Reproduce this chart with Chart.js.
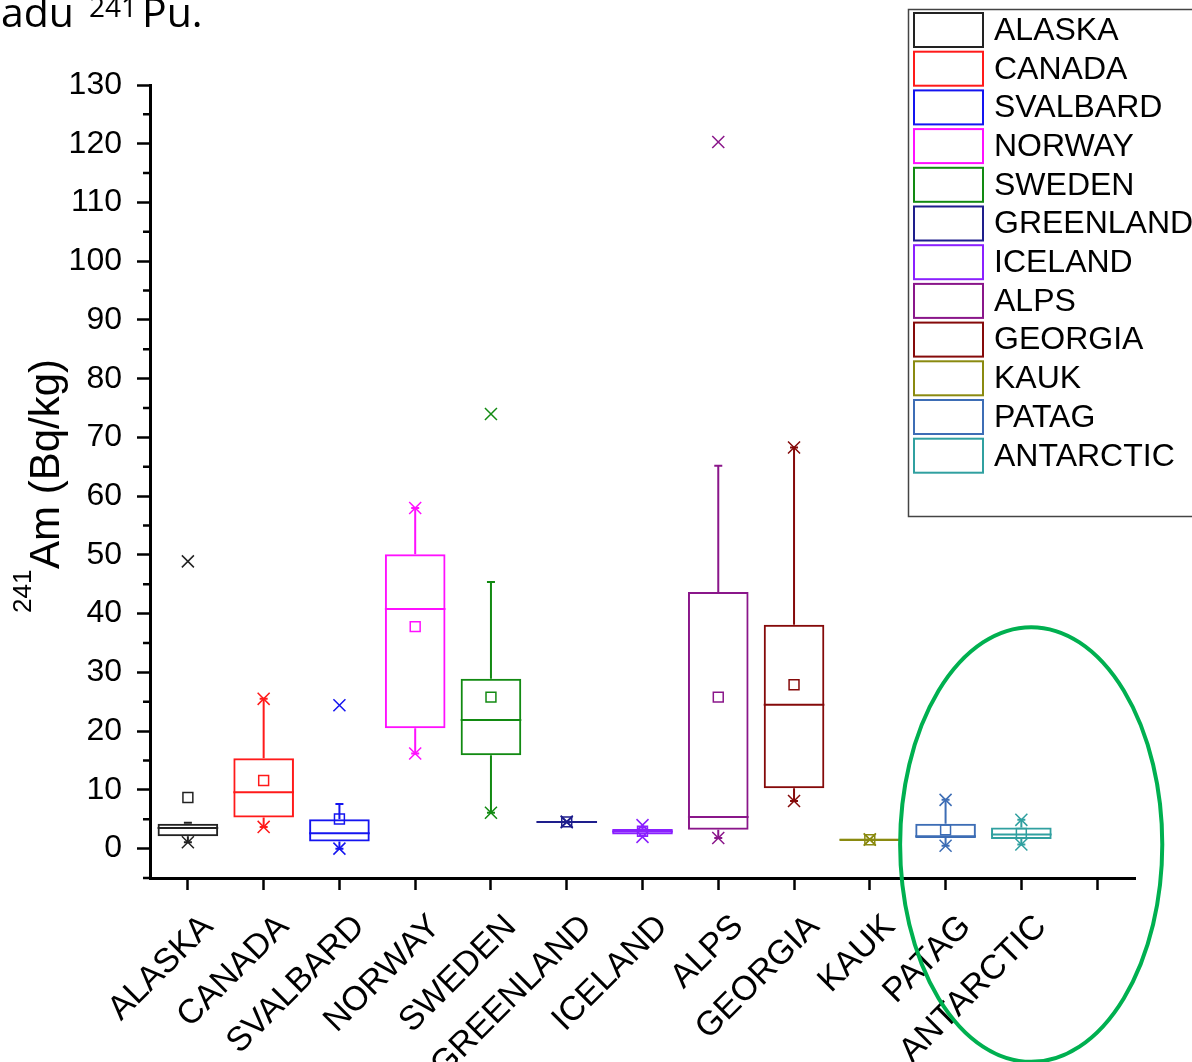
<!DOCTYPE html>
<html>
<head>
<meta charset="utf-8">
<script src="https://cdn.jsdelivr.net/npm/chart.js@4.4.1/dist/chart.umd.min.js"></script>
<style>
  html, body { margin: 0; padding: 0; background: #fff; }
  canvas { display: block; }
</style>
</head>
<body>
<canvas id="boxChart" width="1192" height="1062"></canvas>
<script>
// categories, one box each
const categories = ['ALASKA', 'CANADA', 'SVALBARD', 'NORWAY', 'SWEDEN', 'GREENLAND',
  'ICELAND', 'ALPS', 'GEORGIA', 'KAUK', 'PATAG', 'ANTARCTIC'];
// the axis has one empty slot at the end
const xTickLabels = categories.concat(['']);

// box statistics, 241Am (Bq/kg)
const q1Values      = [2.1, 5.3, 1.2, 20.5, 15.9, 4.55, 2.4, 3.2, 10.3, 1.3, 1.8, 1.65];
const medianValues  = [3.5, 9.6, 2.6, 40.8, 21.9, 4.55, 2.9, 5.4, 24.5, 1.5, 2.1, 2.4];
const q3Values      = [4.25, 15.4, 5.0, 50.1, 28.9, 4.55, 3.35, 43.7, 38.1, 1.7, 4.25, 3.6];
const whiskerLow    = [1.1, 3.7, 0.0, 16.2, 6.1, 4.55, 2.2, 1.8, 8.1, 1.5, 0.5, 0.7];
const whiskerHigh   = [4.4, 25.5, 7.6, 58.0, 45.4, 4.55, 3.6, 65.2, 68.3, 1.5, 8.3, 4.9];
const meanValues    = [8.7, 11.6, 5.05, 37.8, 25.8, 4.55, 2.95, 25.8, 27.9, 1.5, 3.2, 2.6];
const minValues     = [1.1, 3.7, 0.0, 16.2, 6.1, 4.5, 2.0, 1.8, 8.1, 1.5, 0.5, 0.7];
const maxValues     = [48.9, 25.5, 24.4, 58.0, 74.0, 4.6, 4.0, 120.3, 68.3, 1.6, 8.3, 4.9];

const boxColors = ['#222222', '#ff1a1a', '#1414f0', '#ff10ff', '#128a12', '#1e1e8c',
  '#8a20ff', '#8a168a', '#850a0a', '#8a8a10', '#3d6db5', '#30a0a0'];

const FONT = "'Liberation Sans', Arial, sans-serif";

const boxExtras = {
  id: 'boxExtras',
  beforeDatasetsDraw(chart) {
    const { ctx, scales: { x, y } } = chart;
    ctx.save();
    ctx.lineWidth = 2;
    categories.forEach((c, i) => {
      const xc = x.getPixelForValue(i);
      ctx.strokeStyle = boxColors[i];
      ctx.beginPath();
      ctx.moveTo(xc, y.getPixelForValue(q3Values[i]));
      ctx.lineTo(xc, y.getPixelForValue(whiskerHigh[i]));
      ctx.moveTo(xc, y.getPixelForValue(q1Values[i]));
      ctx.lineTo(xc, y.getPixelForValue(whiskerLow[i]));
      // caps
      [whiskerHigh[i], whiskerLow[i]].forEach(v => {
        const yy = y.getPixelForValue(v);
        ctx.moveTo(xc - 4, yy);
        ctx.lineTo(xc + 4, yy);
      });
      ctx.stroke();
    });
    ctx.restore();
  },
  afterDatasetsDraw(chart) {
    const { ctx, scales: { x, y } } = chart;
    const bars = chart.getDatasetMeta(0).data;
    ctx.save();
    ctx.lineWidth = 2;
    categories.forEach((c, i) => {
      const xc = x.getPixelForValue(i);
      const hw = bars[i].width / 2;
      const ym = y.getPixelForValue(medianValues[i]);
      ctx.strokeStyle = boxColors[i];
      ctx.beginPath();
      ctx.moveTo(xc - hw, ym);
      ctx.lineTo(xc + hw, ym);
      ctx.stroke();
    });
    ctx.restore();
  },
  afterDraw(chart) {
    const { ctx, chartArea, scales: { x, y } } = chart;
    ctx.save();

    // minor ticks on the y axis
    ctx.strokeStyle = '#000';
    ctx.lineWidth = 2.5;
    ctx.beginPath();
    for (let v = -5; v <= 125; v += 10) {
      const yy = y.getPixelForValue(v);
      ctx.moveTo(chartArea.left - 7, yy);
      ctx.lineTo(chartArea.left, yy);
    }
    ctx.stroke();

    // y axis title with superscript
    ctx.save();
    ctx.translate(59, 613);
    ctx.rotate(-Math.PI / 2);
    ctx.fillStyle = '#000';
    ctx.textBaseline = 'alphabetic';
    ctx.font = '26px ' + FONT;
    ctx.fillText('241', 0, -28);
    ctx.font = '42px ' + FONT;
    ctx.fillText('Am (Bq/kg)', 44, 0);
    ctx.restore();

    // text cut from the page above the figure
    ctx.fillStyle = '#000';
    ctx.font = "41px 'Open Sans', sans-serif";
    ctx.fillText('adu', 1, 27);
    ctx.font = "28px 'Open Sans', sans-serif";
    ctx.fillText('241', 89, 17);
    ctx.font = "41px 'Open Sans', sans-serif";
    ctx.fillText('Pu.', 142, 27);

    // legend
    ctx.fillStyle = '#fff';
    ctx.fillRect(908, 9, 300, 508);
    ctx.strokeStyle = '#444';
    ctx.lineWidth = 1.5;
    ctx.strokeRect(908.5, 9.5, 300, 507);
    ctx.font = '32px ' + FONT;
    ctx.textBaseline = 'middle';
    categories.forEach((c, i) => {
      const y0 = 13 + i * 38.7;
      ctx.strokeStyle = boxColors[i];
      ctx.lineWidth = 2;
      ctx.strokeRect(914, y0, 69, 34);
      ctx.fillStyle = '#000';
      ctx.fillText(c, 994, y0 + 18);
    });

    // green highlight ellipse around the last two boxes
    const step = x.getPixelForValue(1) - x.getPixelForValue(0);
    const cx = x.getPixelForValue(11.13);
    const cy = y.getPixelForValue(0.7);
    const ry = cy - y.getPixelForValue(37.7);
    ctx.strokeStyle = '#00b050';
    ctx.lineWidth = 4;
    ctx.beginPath();
    ctx.ellipse(cx, cy, 1.73 * step, ry, 0, 0, Math.PI * 2);
    ctx.stroke();

    ctx.restore();
  }
};

const ctx = document.getElementById('boxChart').getContext('2d');

new Chart(ctx, {
  type: 'bar',
  data: {
    labels: xTickLabels,
    datasets: [
      {
        type: 'bar',
        label: 'box',
        data: categories.map((c, i) => [q1Values[i], q3Values[i]]),
        backgroundColor: 'rgba(0,0,0,0)',
        borderColor: boxColors,
        borderWidth: 2,
        borderSkipped: false,
        barPercentage: 0.8,
        categoryPercentage: 1,
        order: 3
      },
      {
        type: 'line',
        label: 'mean',
        data: meanValues,
        showLine: false,
        pointStyle: 'rect',
        pointRadius: 7,
        pointBorderWidth: 1.5,
        pointBorderColor: boxColors,
        pointBackgroundColor: 'rgba(0,0,0,0)',
        order: 2
      },
      {
        type: 'line',
        label: 'min',
        data: minValues,
        showLine: false,
        pointStyle: 'crossRot',
        pointRadius: 8.5,
        pointBorderWidth: 1.5,
        pointBorderColor: boxColors,
        order: 1
      },
      {
        type: 'line',
        label: 'max',
        data: maxValues,
        showLine: false,
        pointStyle: 'crossRot',
        pointRadius: 8.5,
        pointBorderWidth: 1.5,
        pointBorderColor: boxColors,
        order: 1
      }
    ]
  },
  options: {
    responsive: false,
    animation: false,
    events: [],
    layout: { padding: { top: 85, right: 57, left: 0, bottom: 0 } },
    plugins: {
      legend: { display: false },
      tooltip: { enabled: false }
    },
    scales: {
      x: {
        offset: true,
        grid: {
          drawOnChartArea: false,
          offset: false,
          tickLength: 12,
          tickWidth: 2.5,
          tickColor: '#000'
        },
        border: { color: '#000', width: 3 },
        ticks: {
          autoSkip: false,
          maxRotation: 45,
          minRotation: 45,
          padding: 17,
          labelOffset: 20,
          color: '#000',
          font: { family: FONT, size: 34 }
        },
        afterFit(s) { s.height = 184; }
      },
      y: {
        min: -5,
        max: 130,
        grid: {
          drawOnChartArea: false,
          tickLength: 13,
          tickWidth: 2.5,
          tickColor: c => (c.tick && c.tick.value % 10 === 0) ? '#000' : 'rgba(0,0,0,0)'
        },
        border: { color: '#000', width: 3 },
        ticks: {
          stepSize: 5,
          autoSkip: false,
          maxTicksLimit: 100,
          padding: 15,
          color: '#000',
          font: { family: FONT, size: 32 },
          callback: v => (v % 10 === 0 ? v : '')
        },
        afterFit(s) { s.width = 150; }
      }
    }
  },
  plugins: [boxExtras]
});
</script>
</body>
</html>
